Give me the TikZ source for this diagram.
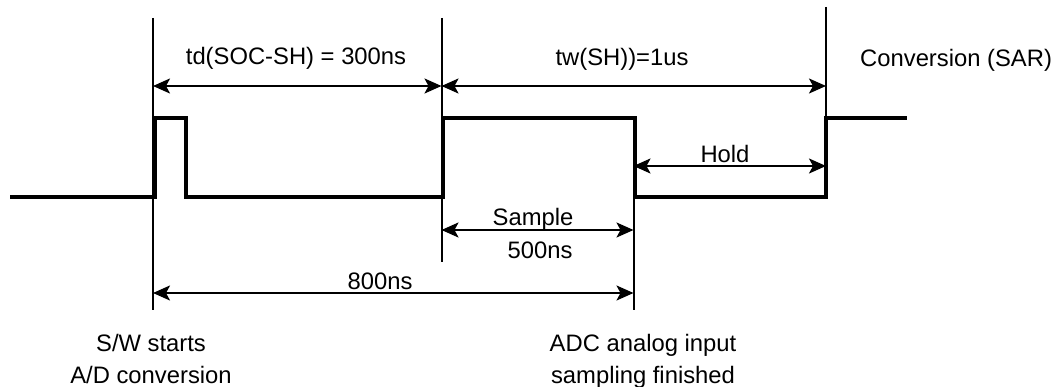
\documentclass[tikz,border=0pt]{standalone}
\usepackage{fontspec}
\setmainfont{Liberation Sans}
\usetikzlibrary{arrows.meta}
\begin{document}
\begin{tikzpicture}[x=1pt,y=-1pt,
  sig/.style={line width=4pt, line cap=butt, line join=miter},
  guide/.style={line width=2pt},
  dim/.style={line width=2pt, {Stealth[length=17pt,width=15pt,inset=4pt]}-{Stealth[length=17pt,width=15pt,inset=4pt]}},
  lbl/.style={inner sep=0pt, anchor=base, font=\fontsize{23.8}{32}\selectfont, align=center}]
\useasboundingbox (0,0) rectangle (1055,387);
% guide lines
\coordinate (At) at (153,18);   \coordinate (Ab) at (153,310);
\coordinate (Bt) at (441.5,18); \coordinate (Bb) at (441.5,262);
\coordinate (Ct) at (633.5,198);\coordinate (Cb) at (633.5,310);
\coordinate (Dt) at (826,7);    \coordinate (Db) at (826,198);
\draw[guide] (At) -- (Ab);
\draw[guide] (Bt) -- (Bb);
\draw[guide] (Ct) -- (Cb);
\draw[guide] (Dt) -- (Db);
% signal
\coordinate (s0) at (10,197.5);
\coordinate (s1) at (907,118);
\draw[sig] (s0) -| (154.5,118) -| (185.5,197.5) -| (443,118) -| (634.5,197.5) -| (825.5,118) -- (s1);
% dimension arrows
\coordinate (a1) at (153,86);   \coordinate (a2) at (441.5,86); \coordinate (a3) at (826,86);
\coordinate (h1) at (633.5,166);\coordinate (h2) at (826,166);
\coordinate (p1) at (441.5,230);\coordinate (p2) at (633.5,230);
\coordinate (e1) at (153,293);  \coordinate (e2) at (633.5,293);
\draw[dim] (a1) -- (a2);
\draw[dim] (a2) -- (a3);
\draw[dim] (h1) -- (h2);
\draw[dim] (p1) -- (p2);
\draw[dim] (e1) -- (e2);
% labels
\node[lbl] (td) at (296,65) {td(SOC-SH) = 300ns};
\node[lbl] (tw) at (622,66) {tw(SH))=1us};
\node[lbl, anchor=base west] (conv) at (860,67) {Conversion (SAR)};
\node[lbl] (hold) at (725,163) {Hold};
\node[lbl] (samp) at (533,226) {Sample};
\node[lbl] (t500) at (540,259) {500ns};
\node[lbl] (t800) at (380,290) {800ns};
\node[lbl] (sw) at (151,383) {S/W starts\\A/D conversion};
\node[lbl] (adc) at (643,383) {ADC analog input\\sampling finished};
\end{tikzpicture}
\end{document}
